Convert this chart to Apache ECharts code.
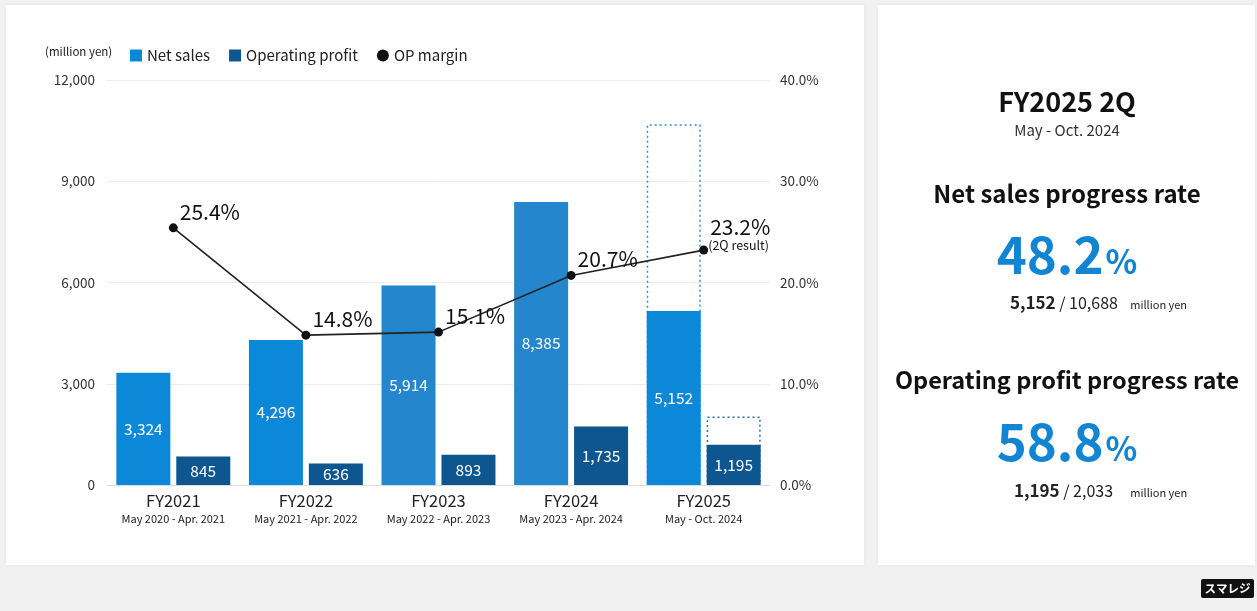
<!DOCTYPE html>
<html>
<head>
<meta charset="utf-8">
<style>
  html, body { margin: 0; padding: 0; background: #f1f1f1; }
  #chart { width: 1257px; height: 611px; }
</style>
<script src="https://cdn.jsdelivr.net/npm/echarts@6/dist/echarts.min.js"></script>
</head>
<body>
<div id="chart"></div>
<script>
// Fiscal years and their periods
const fiscalYears = ['FY2021', 'FY2022', 'FY2023', 'FY2024', 'FY2025'];
const periods = ['May 2020 - Apr. 2021', 'May 2021 - Apr. 2022', 'May 2022 - Apr. 2023', 'May 2023 - Apr. 2024', 'May - Oct. 2024'];

// Results (million yen) and operating profit margin (%)
const netSales = [3324, 4296, 5914, 8385, 5152];
const operatingProfit = [845, 636, 893, 1735, 1195];
const opMargin = [25.4, 14.8, 15.1, 20.7, 23.2];

// FY2025 full-year forecasts (million yen)
const netSalesForecast = [null, null, null, null, 10688];
const opForecast = [null, null, null, null, 2033];

// Axis ticks
const amountTicks = [0, 3000, 6000, 9000, 12000];
const marginTicks = [0, 10, 20, 30, 40];

// Progress rates shown in the side panel
const salesProgress = 48.2;
const opProgress = 58.8;

const FONT = '"Noto Sans CJK JP", "Noto Sans", sans-serif';
const salesColors = ['#0b89d8', '#0b89d8', '#2486cc', '#2486cc', '#0b89d8'];
const fmt = v => v.toLocaleString('en-US');

const chart = echarts.init(document.getElementById('chart'));

const bigRich = {
  n: { fontSize: 51, fontWeight: 'bold', fill: '#1185d2', fontFamily: FONT },
  p: { fontSize: 33, fontWeight: 'bold', fill: '#1185d2', fontFamily: FONT, padding: [12, 0, 0, 2] }
};
const smallRich = {
  b: { fontSize: 17, fontWeight: 'bold', fill: '#222', fontFamily: FONT },
  r: { fontSize: 16, fill: '#222', fontFamily: FONT },
  u: { fontSize: 11, fill: '#222', fontFamily: FONT, padding: [4, 0, 0, 0] }
};

const option = {
  backgroundColor: '#f1f1f1',
  textStyle: { fontFamily: FONT },
  animation: false,
  legend: {
    data: [
      { name: 'Net sales', icon: 'rect' },
      { name: 'Operating profit', icon: 'rect' },
      { name: 'OP margin', icon: 'circle' }
    ],
    left: 125,
    top: 43,
    itemWidth: 12,
    itemHeight: 12,
    itemGap: 19,
    textStyle: { fontSize: 15, color: '#222', fontFamily: FONT }
  },
  grid: { left: 107, right: 487, top: 80, bottom: 126 },
  xAxis: [
    {
      type: 'category',
      data: fiscalYears,
      axisLine: { lineStyle: { color: '#dcdcdc' } },
      axisTick: { show: false },
      axisLabel: {
        interval: 0,
        margin: 6,
        formatter: (v, i) => '{a|' + v + '}\n{b|' + periods[i] + '}',
        rich: {
          a: { fontSize: 16.5, color: '#222', lineHeight: 20, fontFamily: FONT },
          b: { fontSize: 11, color: '#222', lineHeight: 16, fontFamily: FONT }
        }
      }
    },
    {
      type: 'category',
      data: fiscalYears,
      show: false
    }
  ],
  yAxis: [
    {
      type: 'value',
      min: amountTicks[0],
      max: amountTicks[amountTicks.length - 1],
      interval: amountTicks[1] - amountTicks[0],
      axisLabel: { formatter: v => fmt(v), fontSize: 13.5, color: '#333', margin: 12 },
      splitLine: { lineStyle: { color: '#ececec' } },
      axisLine: { show: false },
      axisTick: { show: false }
    },
    {
      type: 'value',
      min: marginTicks[0],
      max: marginTicks[marginTicks.length - 1],
      interval: marginTicks[1] - marginTicks[0],
      axisLabel: { formatter: v => v.toFixed(1) + '%', fontSize: 13.5, color: '#333', margin: 10 },
      splitLine: { show: false },
      axisLine: { show: false },
      axisTick: { show: false }
    }
  ],
  series: [
    {
      name: 'Net sales forecast',
      type: 'bar',
      xAxisIndex: 1,
      data: netSalesForecast,
      barWidth: 54,
      barGap: '11%',
      z: 1,
      itemStyle: { color: 'rgba(0,0,0,0)', borderColor: '#2c8fd6', borderWidth: 1.5, borderType: [2, 3] },
      silent: true
    },
    {
      name: 'Operating profit forecast',
      type: 'bar',
      xAxisIndex: 1,
      data: opForecast,
      barWidth: 54,
      barGap: '11%',
      z: 1,
      itemStyle: { color: 'rgba(0,0,0,0)', borderColor: '#2b6ea6', borderWidth: 1.5, borderType: [2, 3] },
      silent: true
    },
    {
      name: 'Net sales',
      type: 'bar',
      data: netSales.map((v, i) => ({ value: v, itemStyle: { color: salesColors[i] } })),
      barWidth: 54,
      barGap: '11%',
      z: 2,
      itemStyle: { color: '#0b89d8' },
      label: { show: true, position: 'inside', color: '#fff', fontSize: 15.5, formatter: p => fmt(p.value) }
    },
    {
      name: 'Operating profit',
      type: 'bar',
      data: operatingProfit,
      barWidth: 54,
      barGap: '11%',
      z: 2,
      itemStyle: { color: '#0d5690' },
      label: { show: true, position: 'inside', color: '#fff', fontSize: 15.5, formatter: p => fmt(p.value) }
    },
    {
      name: 'OP margin',
      type: 'line',
      yAxisIndex: 1,
      data: opMargin,
      z: 5,
      symbol: 'circle',
      symbolSize: 9,
      itemStyle: { color: '#111' },
      lineStyle: { color: '#222', width: 1.6 },
      label: {
        show: true,
        position: 'right',
        distance: 2,
        offset: [0, -16],
        color: '#111',
        fontSize: 21,
        formatter: p => p.dataIndex === opMargin.length - 1
          ? '{v|' + p.value.toFixed(1) + '%}\n{s|(2Q result)}'
          : p.value.toFixed(1) + '%',
        rich: {
          v: { fontSize: 21, color: '#111', lineHeight: 22, fontFamily: FONT },
          s: { fontSize: 12.5, color: '#111', lineHeight: 14, fontFamily: FONT, padding: [0, 0, 0, -2] }
        }
      }
    }
  ],
  graphic: [
    // panels
    { type: 'rect', z: -10, shape: { x: 6, y: 5, width: 858, height: 560 }, style: { fill: '#ffffff', shadowBlur: 4, shadowColor: 'rgba(0,0,0,0.06)' } },
    { type: 'rect', z: -10, shape: { x: 878, y: 5, width: 377, height: 560 }, style: { fill: '#ffffff', shadowBlur: 4, shadowColor: 'rgba(0,0,0,0.06)' } },
    // unit note
    { type: 'text', left: 45, top: 46, style: { text: '(million yen)', fontSize: 11.5, fill: '#222', fontFamily: FONT } },
    // side panel
    { type: 'text', x: 1067, y: 102, style: { text: 'FY2025 2Q', fontSize: 27, fontWeight: 'bold', fill: '#111', fontFamily: FONT, textAlign: 'center', textVerticalAlign: 'middle' } },
    { type: 'text', x: 1067, y: 130, style: { text: 'May - Oct. 2024', fontSize: 15, fill: '#333', fontFamily: FONT, textAlign: 'center', textVerticalAlign: 'middle' } },
    { type: 'text', x: 1067, y: 194, style: { text: 'Net sales progress rate', fontSize: 24, fontWeight: 'bold', fill: '#111', fontFamily: FONT, textAlign: 'center', textVerticalAlign: 'middle' } },
    { type: 'text', x: 1067, y: 255, style: {
      text: '{n|' + salesProgress.toFixed(1) + '}{p|%}', textAlign: 'center', textVerticalAlign: 'middle', fontFamily: FONT, rich: bigRich } },
    { type: 'text', x: 1010, y: 303, style: {
      text: '{b|' + fmt(netSales[4]) + '}{r| / ' + fmt(netSalesForecast[4]) + '}{u|     million yen}', textAlign: 'left', textVerticalAlign: 'middle', fontFamily: FONT, rich: smallRich } },
    { type: 'text', x: 1067, y: 380, style: { text: 'Operating profit progress rate', fontSize: 23.5, fontWeight: 'bold', fill: '#111', fontFamily: FONT, textAlign: 'center', textVerticalAlign: 'middle' } },
    { type: 'text', x: 1067, y: 442, style: {
      text: '{n|' + opProgress.toFixed(1) + '}{p|%}', textAlign: 'center', textVerticalAlign: 'middle', fontFamily: FONT, rich: bigRich } },
    { type: 'text', x: 1014, y: 491, style: {
      text: '{b|' + fmt(operatingProfit[4]) + '}{r| / ' + fmt(opForecast[4]) + '}{u|       million yen}', textAlign: 'left', textVerticalAlign: 'middle', fontFamily: FONT, rich: smallRich } },
    // logo
    { type: 'rect', shape: { x: 1201, y: 579, width: 53, height: 19, r: 2 }, style: { fill: '#111' } },
    { type: 'text', x: 1227.5, y: 588.5, style: { text: 'スマレジ', fontSize: 11.5, fontWeight: 'bold', fill: '#fff', fontFamily: FONT, textAlign: 'center', textVerticalAlign: 'middle' } }
  ]
};

chart.setOption(option);
</script>
</body>
</html>
